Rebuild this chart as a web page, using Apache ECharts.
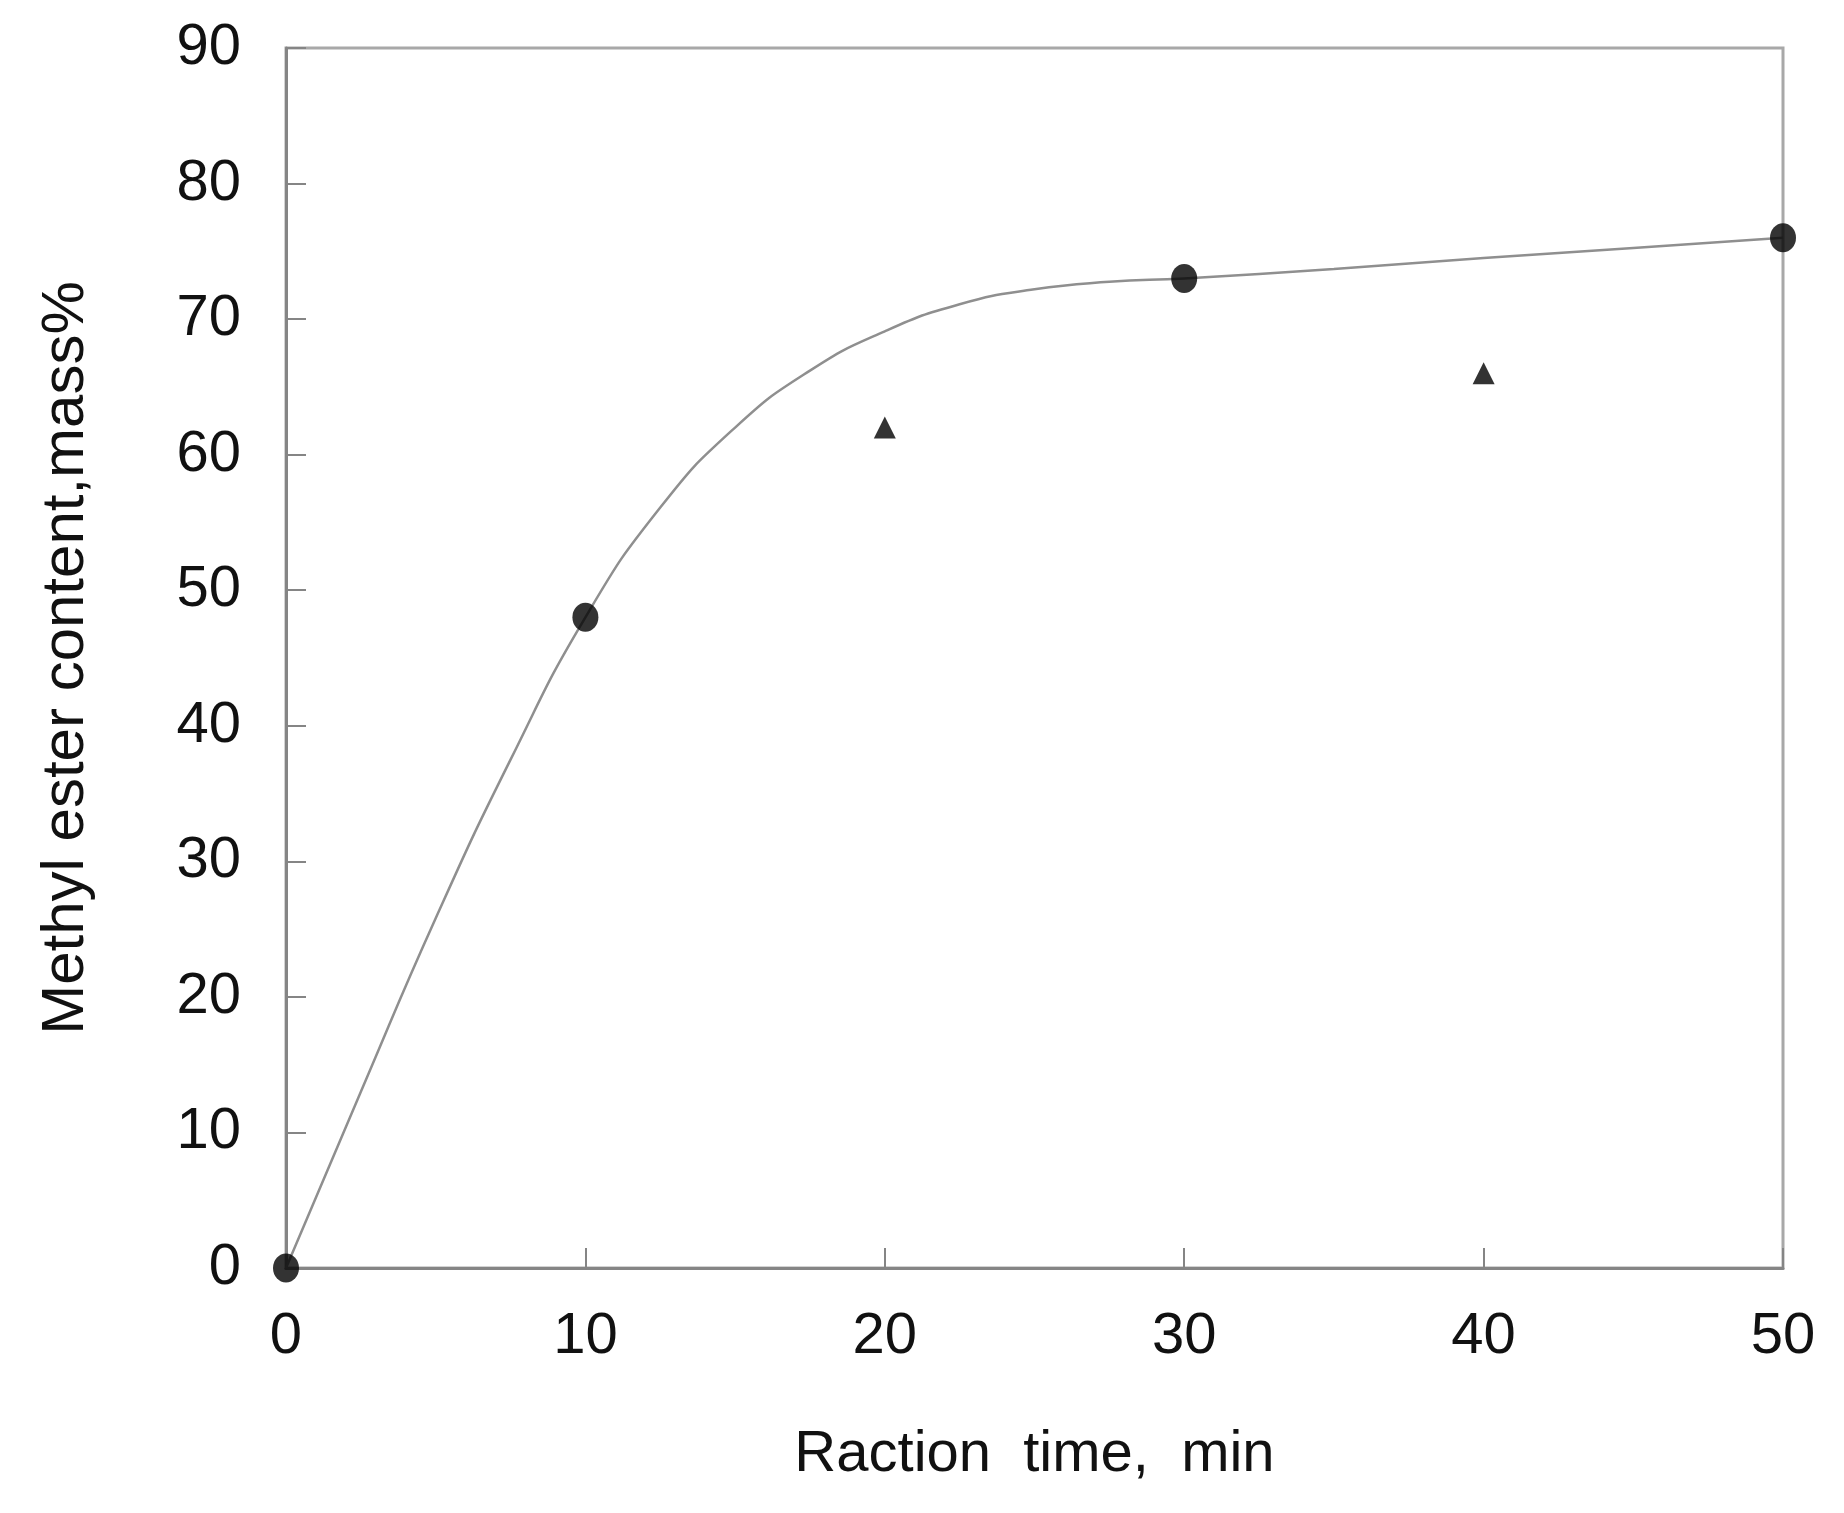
<!DOCTYPE html>
<html><head><meta charset="utf-8">
<script src="https://cdn.jsdelivr.net/npm/echarts@6/dist/echarts.min.js"></script>
<style>html,body{margin:0;padding:0;background:#fff}#c{width:1844px;height:1513px}</style>
</head><body><div id="c"></div>
<script>
const xTicks = [0, 10, 20, 30, 40, 50];
const circleX = [0, 10, 30, 50];
const circleY = [0, 48, 73, 76];
const triangleX = [20, 40];
const triangleY = [62, 66];
// points
const curveX = [0, 2.5, 5, 7.5, 10, 12.5, 15, 17.5, 20, 22.5, 25, 27.5, 30, 35, 40, 45, 50];
const curveY = [0, 13, 25.8, 37.5, 48, 56.1, 62.0, 66.2, 69.1, 71.1, 72.2, 72.75, 73, 73.7, 74.5, 75.25, 76];
const xName = 'Raction  time,  min';
const yName = 'Methyl ester content,mass%';

const font = 'Liberation Sans, Arial, sans-serif';
const chart = echarts.init(document.getElementById('c'));
const axisCommon = {
  axisLine: {show: true, onZero: false, lineStyle: {color: '#858585', width: 3}},
  axisTick: {show: true, inside: true, length: 20, lineStyle: {color: '#858585', width: 2}},
  splitLine: {show: false},
  axisLabel: {color: '#111', fontFamily: font, fontSize: 58},
  nameTextStyle: {color: '#111', fontFamily: font, fontSize: 58}
};
chart.setOption({
  backgroundColor: '#fff',
  animation: false,
  grid: {left: 286, top: 48, right: 61, bottom: 245, show: true, borderColor: '#a8a8a8', borderWidth: 3},
  xAxis: Object.assign({}, axisCommon, {
    type: 'value', min: 0, max: 50, interval: 10,
    name: xName, nameLocation: 'middle', nameGap: 158,
    axisLabel: Object.assign({}, axisCommon.axisLabel, {margin: 40})
  }),
  yAxis: Object.assign({}, axisCommon, {
    type: 'value', min: 0, max: 90, interval: 10,
    name: yName, nameLocation: 'middle', nameGap: 190,
    nameTextStyle: Object.assign({}, axisCommon.nameTextStyle, {fontSize: 60}),
    axisLabel: Object.assign({}, axisCommon.axisLabel, {margin: 45})
  }),
  series: [
    {
      type: 'line', data: curveX.map((x, i) => [x, curveY[i]]),
      smooth: 0.5, symbol: 'none',
      lineStyle: {color: '#8f8f8f', width: 2.5}, z: 2
    },
    {
      type: 'scatter', data: circleX.map((x, i) => [x, circleY[i]]),
      symbol: 'circle', symbolSize: [26, 29], itemStyle: {color: '#000'}, z: 3
    },
    {
      type: 'scatter', data: triangleX.map((x, i) => [x, triangleY[i]]),
      symbol: 'triangle', symbolSize: [22, 22], itemStyle: {color: '#000'}, z: 3
    }
  ]
});
</script></body></html>
